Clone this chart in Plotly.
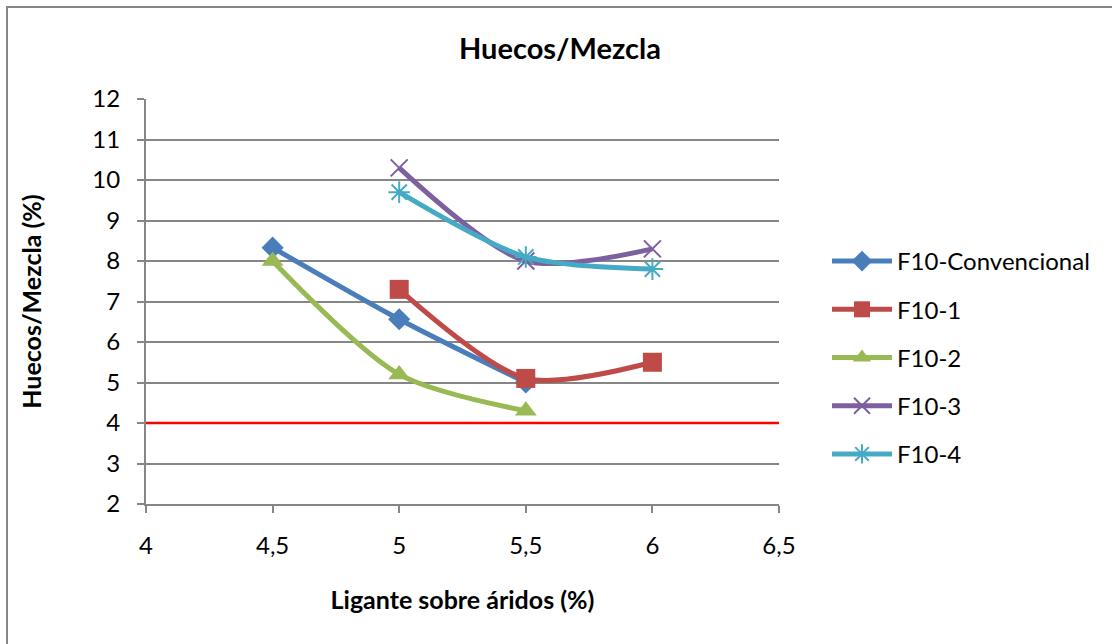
import plotly.graph_objects as go

# Ligante sobre áridos (%) and Huecos/Mezcla (%) for each mix
x_conv = [4.5, 5.0, 5.5]
y_conv = [8.33, 6.56, 5.0]
x_f1 = [5.0, 5.5, 6.0]
y_f1 = [7.3, 5.1, 5.5]
x_f2 = [4.5, 5.0, 5.5]
y_f2 = [8.0, 5.2, 4.3]
x_f3 = [5.0, 5.5, 6.0]
y_f3 = [10.3, 8.0, 8.3]
x_f4 = [5.0, 5.5, 6.0]
y_f4 = [9.7, 8.1, 7.8]
limit_x = [4.0, 6.5]
limit_y = [4.0, 4.0]

names = ["F10-Convencional", "F10-1", "F10-2", "F10-3", "F10-4"]
colors = ["#4A7EBB", "#BE4B48", "#98B954", "#7D60A0", "#46AAC5"]
symbols = ["diamond", "square", "triangle-up", "x-thin", "asterisk"]
sizes = [17, 19, 19, 17, 18]
xs = [x_conv, x_f1, x_f2, x_f3, x_f4]
ys = [y_conv, y_f1, y_f2, y_f3, y_f4]

FONT = "Lato"
GRID = "#868686"

# plot area in pixels
L, R, T, B = 146, 779, 99, 504
W, H = 1112, 644
PW, PH = R - L, B - T

fig = go.Figure()

fig.add_trace(go.Scatter(
    x=limit_x, y=limit_y, mode="lines",
    line=dict(color="#FF0000", width=2.5),
    showlegend=False, hoverinfo="skip",
))

for name, c, s, sz, xv, yv in zip(names, colors, symbols, sizes, xs, ys):
    open_sym = s in ("x-thin", "asterisk")
    fig.add_trace(go.Scatter(
        x=xv, y=yv, name=name, legendgroup=name, mode="lines+markers",
        line=dict(color=c, width=5, shape="spline", smoothing=0.8),
        marker=dict(symbol=s, size=sz, color=c,
                    line=dict(color=c, width=2 if open_sym else 0)),
    ))

fig.update_layout(
    width=W, height=H,
    paper_bgcolor="white", plot_bgcolor="white",
    margin=dict(l=L, r=W - R, t=T, b=H - B),
    font=dict(family=FONT, size=24, color="black"),
    title=dict(text="<b>Huecos/Mezcla</b>", x=560 / W, xanchor="center",
               y=1 - 49 / H, yanchor="middle",
               font=dict(family=FONT, size=29, color="black")),
    legend=dict(x=(827 - L) / PW, y=(B - 239) / PH, yanchor="top",
                xanchor="left", font=dict(family=FONT, size=24),
                itemwidth=60, tracegroupgap=14, bgcolor="rgba(0,0,0,0)"),
    showlegend=True,
)

fig.update_xaxes(
    range=[4, 6.5], tickvals=[4, 4.5, 5, 5.5, 6, 6.5],
    ticktext=["4", "4,5", "5", "5,5", "6", "6,5"],
    showgrid=False, showline=True, linecolor=GRID, linewidth=2,
    ticks="outside", ticklen=7, tickcolor=GRID, tickwidth=2,
    ticklabelstandoff=12, zeroline=False,
    title=dict(text="<b>Ligante sobre áridos (%)</b>", standoff=34,
               font=dict(family=FONT, size=25)),
)
fig.update_yaxes(
    range=[2, 12], tickvals=list(range(2, 13)),
    showgrid=True, gridcolor=GRID, gridwidth=2,
    showline=True, linecolor=GRID, linewidth=2,
    ticks="outside", ticklen=7, tickcolor=GRID, tickwidth=2,
    ticklabelstandoff=12, zeroline=False,
    title=dict(text="<b>Huecos/Mezcla (%)</b>", standoff=44,
               font=dict(family=FONT, size=25)),
)

# Chart frame (left and top edges visible)
fig.add_shape(type="rect", xref="paper", yref="paper",
              x0=(7 - L) / PW, x1=(1120 - L) / PW,
              y0=(B - 650) / PH, y1=(B - 7) / PH,
              line=dict(color=GRID, width=2), layer="below")

fig.write_html("out.html")
